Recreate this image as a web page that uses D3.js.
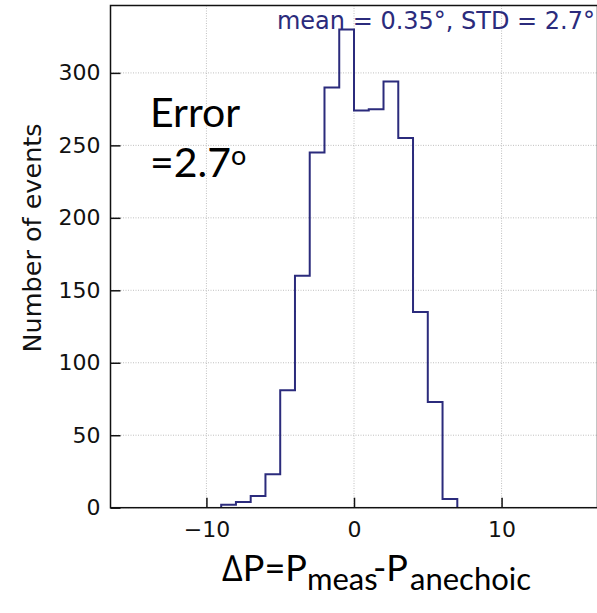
<!DOCTYPE html>
<html>
<head>
<meta charset="utf-8">
<script src="https://cdn.jsdelivr.net/npm/d3@7"></script>
<style>
  body { margin: 0; background: #fff; }
  svg { display: block; }
</style>
</head>
<body>
<div id="chart"></div>
<script>
// histogram bins (unit width)
var binEdges = [-9, -8, -7, -6, -5, -4, -3, -2, -1, 0, 1, 2, 3, 4, 5, 6, 7];
var binCounts = [2, 4, 8, 23, 81, 160, 245, 290, 330, 274, 275, 294, 255, 135, 73, 6];
var xTicks = [-10, 0, 10];
var yTicks = [0, 50, 100, 150, 200, 250, 300];
var statsLabel = "mean = 0.35\u00b0, STD = 2.7\u00b0";

var width = 597, height = 613;
var lineColor = "#2b2b7c";

var svg = d3.select("#chart").append("svg")
    .attr("width", width)
    .attr("height", height);

var xScale = d3.scaleLinear().domain([-16.5, 16.5]).range([110.5, 597.5]);
var yScale = d3.scaleLinear().domain([0, 346.5]).range([507.7, 5.5]);

var x0 = xScale.range()[0], x1 = xScale.range()[1];
var y0 = yScale.range()[0], y1 = yScale.range()[1];

// grid
svg.append("g").selectAll("line.vg")
    .data(xTicks).enter().append("line")
    .attr("x1", d => xScale(d)).attr("x2", d => xScale(d))
    .attr("y1", y1).attr("y2", y0)
    .attr("stroke", "#b0b0b0").attr("stroke-width", 0.8)
    .attr("stroke-dasharray", "1,1.5");
svg.append("g").selectAll("line.hg")
    .data(yTicks).enter().append("line")
    .attr("x1", x0).attr("x2", x1)
    .attr("y1", d => yScale(d)).attr("y2", d => yScale(d))
    .attr("stroke", "#b0b0b0").attr("stroke-width", 0.8)
    .attr("stroke-dasharray", "1,1.5");

// step outline
var pts = [[binEdges[0], 0]];
binCounts.forEach(function(c, i) {
    pts.push([binEdges[i], c]);
    pts.push([binEdges[i + 1], c]);
});
pts.push([binEdges[binEdges.length - 1], 0]);

svg.append("path")
    .datum(pts)
    .attr("d", d3.line().x(d => xScale(d[0])).y(d => yScale(d[1])))
    .attr("fill", "none")
    .attr("stroke", lineColor)
    .attr("stroke-width", 2);

// frame
svg.append("rect")
    .attr("x", x0).attr("y", y1)
    .attr("width", x1 - x0).attr("height", y0 - y1)
    .attr("fill", "none").attr("stroke", "#111").attr("stroke-width", 1.5);

// axes with inward ticks
var xAxis = d3.axisBottom(xScale).tickValues(xTicks).tickSize(-10)
    .tickPadding(14).tickFormat(d => d < 0 ? "\u2212" + Math.abs(d) : d);
var yAxis = d3.axisLeft(yScale).tickValues(yTicks).tickSize(-10).tickPadding(10);

var gx = svg.append("g").attr("transform", "translate(0," + y0 + ")").call(xAxis);
var gy = svg.append("g").attr("transform", "translate(" + x0 + ",0)").call(yAxis);
[gx, gy].forEach(function(g) {
    g.select(".domain").remove();
    g.selectAll(".tick line").attr("stroke", "#111").attr("stroke-width", 1.5);
    g.selectAll(".tick text")
        .attr("fill", "#111")
        .style("font-family", "'DejaVu Sans', sans-serif")
        .style("font-size", "22px");
});

// y label
svg.append("text")
    .attr("transform", "translate(41,238) rotate(-90)")
    .attr("text-anchor", "middle")
    .style("font-family", "'DejaVu Sans', sans-serif")
    .style("font-size", "25.5px")
    .attr("fill", "#111")
    .text("Number of events");

// stats label
svg.append("text")
    .attr("x", 595).attr("y", 29)
    .attr("text-anchor", "end")
    .style("font-family", "'DejaVu Sans', sans-serif")
    .style("font-size", "24px")
    .attr("fill", lineColor)
    .text(statsLabel);

// annotation
var ann = svg.append("g")
    .style("font-family", "Lato, 'Open Sans', sans-serif")
    .style("font-size", "41px")
    .attr("fill", "#000");
ann.append("text").attr("x", 150).attr("y", 127).text("Error");
var t2 = ann.append("text").attr("x", 150).attr("y", 177);
t2.append("tspan").text("=2.7");
t2.append("tspan").attr("dy", -12).style("font-size", "27px").text("o");

// x label
var xl = svg.append("text")
    .attr("x", 222).attr("y", 581)
    .style("font-family", "Lato, 'Open Sans', sans-serif")
    .style("font-size", "36px")
    .attr("fill", "#000");
xl.append("tspan").text("\u2206P=P");
xl.append("tspan").attr("x", 307).attr("dy", 9).style("font-size", "31px").text("meas");
xl.append("tspan").attr("x", 373).attr("dy", -9).text("-P");
xl.append("tspan").attr("x", 410).attr("dy", 9).style("font-size", "31px").text("anechoic");
</script>
</body>
</html>
